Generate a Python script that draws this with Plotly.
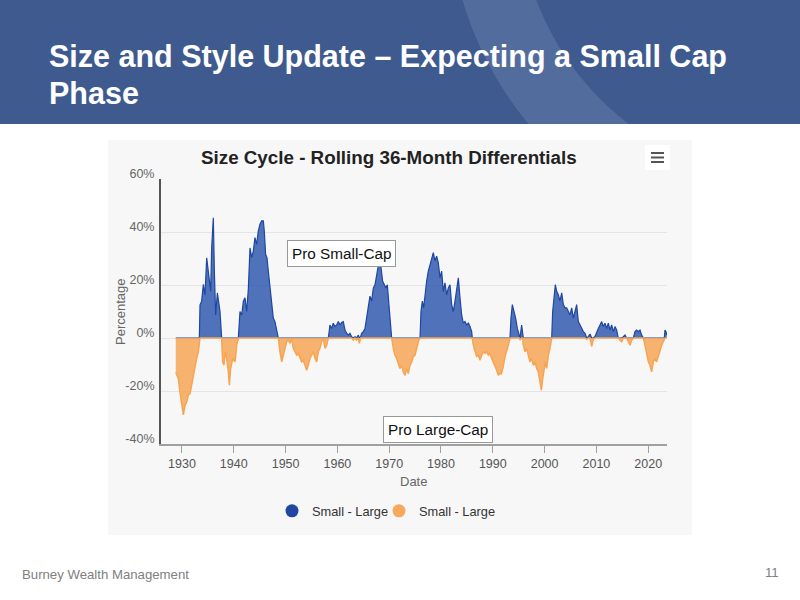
import math
import plotly.graph_objects as go

# ---------------- data ----------------
years = [
    1928.80, 1928.97, 1929.30, 1929.62, 1929.94, 1930.26, 1930.58, 1930.90, 1931.22, 1931.54,
    1931.87, 1932.19, 1932.51, 1932.83, 1933.15, 1933.35, 1933.48, 1933.80, 1934.12, 1934.44,
    1934.77, 1934.96, 1935.28, 1935.54, 1935.73, 1936.05, 1936.25, 1936.50, 1936.83, 1937.08,
    1937.34, 1937.66, 1937.85, 1938.11, 1938.37, 1938.63, 1938.95, 1939.14, 1939.40, 1939.79,
    1940.24, 1940.56, 1940.88, 1941.20, 1941.53, 1941.85, 1942.17, 1942.48, 1942.81, 1943.13,
    1943.45, 1943.77, 1944.09, 1944.41, 1944.74, 1945.06, 1945.38, 1945.70, 1945.89, 1946.15,
    1946.41, 1946.67, 1946.99, 1947.31, 1947.63, 1947.95, 1948.28, 1948.60, 1948.92, 1949.24,
    1949.56, 1949.88, 1950.21, 1950.53, 1950.85, 1951.17, 1951.49, 1951.81, 1952.14, 1952.46,
    1952.78, 1953.10, 1953.42, 1953.75, 1954.07, 1954.39, 1954.71, 1955.03, 1955.35, 1955.68,
    1956.00, 1956.32, 1956.64, 1956.96, 1957.28, 1957.61, 1957.93, 1958.25, 1958.57, 1958.89,
    1959.21, 1959.54, 1959.86, 1960.18, 1960.50, 1960.82, 1961.14, 1961.47, 1961.79, 1962.11,
    1962.43, 1962.75, 1963.08, 1963.40, 1963.72, 1964.04, 1964.23, 1964.49, 1964.68, 1965.01,
    1965.33, 1965.65, 1965.97, 1966.29, 1966.61, 1966.94, 1967.26, 1967.58, 1967.90, 1968.22,
    1968.42, 1968.74, 1969.06, 1969.38, 1969.64, 1969.90, 1970.16, 1970.48, 1970.80, 1971.12,
    1971.44, 1971.76, 1972.08, 1972.41, 1972.73, 1973.05, 1973.37, 1973.69, 1974.01, 1974.34,
    1974.66, 1974.98, 1975.30, 1975.62, 1975.95, 1976.14, 1976.40, 1976.65, 1976.91, 1977.23,
    1977.55, 1977.88, 1978.20, 1978.52, 1978.84, 1979.16, 1979.48, 1979.81, 1980.13, 1980.45,
    1980.77, 1981.09, 1981.42, 1981.74, 1982.06, 1982.38, 1982.70, 1983.03, 1983.35, 1983.67,
    1983.99, 1984.31, 1984.63, 1984.96, 1985.28, 1985.60, 1985.92, 1986.05, 1986.24, 1986.56,
    1986.88, 1987.21, 1987.53, 1987.85, 1988.17, 1988.49, 1988.82, 1989.14, 1989.46, 1989.78,
    1990.10, 1990.42, 1990.75, 1991.07, 1991.39, 1991.65, 1992.00, 1992.36, 1992.68, 1993.00,
    1993.32, 1993.51, 1993.77, 1994.09, 1994.41, 1994.74, 1994.93, 1995.12, 1995.25, 1995.57,
    1995.77, 1995.89, 1996.22, 1996.54, 1996.86, 1997.18, 1997.50, 1997.83, 1998.15, 1998.47,
    1998.79, 1999.11, 1999.37, 1999.63, 1999.88, 2000.14, 2000.40, 2000.72, 2001.04, 2001.37,
    2001.56, 2001.82, 2002.07, 2002.33, 2002.65, 2002.97, 2003.30, 2003.62, 2003.94, 2004.26,
    2004.58, 2004.90, 2005.23, 2005.55, 2005.87, 2006.19, 2006.51, 2006.83, 2007.16, 2007.48,
    2007.80, 2008.12, 2008.44, 2008.77, 2009.09, 2009.41, 2009.73, 2010.05, 2010.37, 2010.70,
    2011.02, 2011.34, 2011.66, 2011.98, 2012.30, 2012.63, 2012.95, 2013.27, 2013.59, 2013.91,
    2014.23, 2014.56, 2014.88, 2015.20, 2015.52, 2015.84, 2016.16, 2016.49, 2016.81, 2017.13,
    2017.45, 2017.77, 2018.09, 2018.42, 2018.74, 2019.06, 2019.38, 2019.70, 2020.03, 2020.35,
    2020.67, 2020.99, 2021.31, 2021.63, 2021.96, 2022.28, 2022.60, 2022.92, 2023.11, 2023.24,
    2023.44, 2023.57,
]
diff = [
    -13.0, -14.1, -15.3, -20.4, -25.4, -29.0, -25.4, -24.2, -21.6, -21.0,
    -17.8, -14.1, -10.3, -7.7, -5.2, 0.0, 12.5, 13.9, 20.2, 16.3,
    30.3, 26.5, 22.7, 17.6, 34.0, 45.4, 25.2, 8.7, 17.0, 13.9,
    10.0, 0.0, -9.0, -10.3, -5.2, -7.7, -12.8, -17.8, -11.5, -7.7,
    -9.0, -2.7, 0.0, 10.0, 8.7, 13.9, 15.2, 10.0, 18.5, 34.0,
    30.3, 32.8, 37.9, 35.3, 40.4, 42.9, 44.2, 44.2, 40.4, 31.5,
    30.3, 25.2, 18.9, 13.9, 7.5, 6.2, 3.6, 0.0, -5.2, -9.0,
    -6.5, -3.9, -1.4, -0.8, -2.0, -0.2, -3.9, -5.2, -6.5, -5.8,
    -7.7, -9.0, -8.4, -10.3, -12.2, -10.3, -7.7, -6.5, -5.2, -7.7,
    -9.0, -5.2, -3.9, -1.4, -0.1, -3.9, -2.7, 0.0, 4.9, 3.6,
    5.6, 4.3, 4.9, 6.2, 4.9, 5.9, 6.2, 3.0, 1.8, 1.1,
    1.8, 0.5, -0.8, 0.5, -0.8, 1.1, -2.0, 0.5, 1.8, 2.4,
    3.6, 7.5, 12.6, 15.8, 13.9, 18.9, 20.1, 24.1, 27.3, 27.8,
    26.6, 21.4, 20.1, 18.9, 20.1, 12.6, 7.5, 0.0, -3.9, -6.5,
    -7.7, -9.6, -11.5, -10.3, -12.8, -14.1, -11.5, -13.4, -10.3, -9.0,
    -7.0, -6.5, -3.9, -1.4, 0.0, 10.0, 13.9, 11.4, 16.5, 21.5,
    25.2, 27.8, 30.3, 32.2, 29.1, 30.9, 28.4, 22.7, 25.2, 17.6,
    20.8, 16.3, 18.9, 20.1, 12.6, 10.0, 13.9, 17.6, 22.7, 15.1,
    8.7, 5.6, 6.2, 4.9, 5.6, 4.3, 2.4, 0.0, -2.7, -5.2,
    -7.0, -6.5, -8.4, -6.5, -5.2, -5.8, -5.2, -6.5, -5.8, -7.7,
    -9.0, -10.3, -12.2, -14.1, -13.4, -13.5, -11.0, -7.0, -5.2, -2.7,
    0.0, 7.5, 12.6, 10.0, 7.5, 3.6, 1.8, 0.0, -0.8, 4.9,
    0.0, -2.7, -5.2, -3.9, -6.5, -9.0, -7.7, -10.3, -9.0, -11.5,
    -12.8, -16.6, -19.7, -15.3, -12.8, -9.0, -11.5, -6.5, -3.9, 0.0,
    10.0, 15.1, 20.1, 17.6, 16.3, 13.9, 17.0, 12.6, 11.4, 11.4,
    10.0, 8.7, 11.4, 7.5, 10.0, 12.6, 6.2, 4.9, 3.6, 2.4,
    1.8, -0.5, 0.5, 1.5, -3.2, -0.5, 0.6, 2.4, 3.6, 4.9,
    6.2, 4.3, 5.6, 3.6, 5.6, 3.0, 4.9, 2.4, 4.3, 3.0,
    0.0, -0.8, -1.4, 0.5, 1.1, 0.0, -1.4, -2.7, -0.8, 0.0,
    2.4, 3.0, 2.4, 3.0, 1.1, 0.0, -2.7, -6.5, -9.0, -10.3,
    -12.8, -9.0, -7.7, -9.0, -6.5, -5.2, -2.7, -1.4, 0.0, 3.0,
    2.4, 1.1,
]
series_names = ["Small - Large", "Small - Large"]
x_ticks = [1930, 1940, 1950, 1960, 1970, 1980, 1990, 2000, 2010, 2020]
y_ticks = [-40, -20, 0, 20, 40, 60]

small_cap = [max(v, 0.0) for v in diff]
large_cap = [min(v, 0.0) for v in diff]

# ---------------- helpers (pixel -> paper) ----------------
W, H = 800, 600
def px(x):
    return x / W
def py(y):
    return 1 - y / H

FONT = "Liberation Sans, Arial"
BLUE_LINE = "#1f47a2"
BLUE_FILL = "rgba(36,80,170,0.80)"
ORANGE_LINE = "#f6a552"
ORANGE_FILL = "rgba(248,166,88,0.85)"

fig = go.Figure()
fig.add_trace(go.Scatter(x=years, y=small_cap, mode="lines", fill="tozeroy",
                         line=dict(color=BLUE_LINE, width=1.2), fillcolor=BLUE_FILL,
                         showlegend=False, hoverinfo="skip"))
fig.add_trace(go.Scatter(x=years, y=large_cap, mode="lines", fill="tozeroy",
                         line=dict(color=ORANGE_LINE, width=1.5), fillcolor=ORANGE_FILL,
                         showlegend=False, hoverinfo="skip"))
# legend entries (circle symbols), one legend each so they can be placed exactly
fig.add_trace(go.Scatter(x=[None], y=[None], mode="markers", name=series_names[0],
                         marker=dict(color="#1f47a2", size=13), legend="legend"))
fig.add_trace(go.Scatter(x=[None], y=[None], mode="markers", name=series_names[1],
                         marker=dict(color="#f7a85a", size=13), legend="legend2"))

# ---------------- decorative slide elements ----------------
shapes = []
shapes.append(dict(type="rect", xref="paper", yref="paper", x0=px(108), x1=px(692),
                   y0=py(535), y1=py(140), fillcolor="#f7f7f7", line=dict(width=0), layer="below"))
shapes.append(dict(type="rect", xref="paper", yref="paper", x0=0, x1=1, y0=py(124), y1=1,
                   fillcolor="#3e5a8e", line=dict(width=0), layer="below"))
cx, cy, R1, R2 = 800, -100, 352, 282
pts = []
n = 40
for i in range(n + 1):
    yy = 124 * i / n
    pts.append((cx - math.sqrt(R1 ** 2 - (yy - cy) ** 2), yy))
for i in range(n, -1, -1):
    yy = 124 * i / n
    pts.append((cx - math.sqrt(R2 ** 2 - (yy - cy) ** 2), yy))
path = "M " + " L ".join(f"{px(a):.5f},{py(b):.5f}" for a, b in pts) + " Z"
shapes.append(dict(type="path", xref="paper", yref="paper", path=path,
                   fillcolor="#526c9e", line=dict(width=0), layer="below"))
shapes.append(dict(type="rect", xref="paper", yref="paper", x0=px(645), x1=px(670),
                   y0=py(170), y1=py(145), fillcolor="#ffffff", line=dict(width=0), layer="above"))
for yy in (153, 157.5, 162):
    shapes.append(dict(type="line", xref="paper", yref="paper", x0=px(651), x1=px(664),
                       y0=py(yy), y1=py(yy), line=dict(color="#555555", width=2), layer="above"))

annotations = [
    dict(text="Size and Style Update – Expecting a Small Cap", x=px(47), y=py(57),
         xanchor="left", yanchor="middle", showarrow=False, xref="paper", yref="paper",
         font=dict(family=FONT, size=30.5, color="white", weight="bold")),
    dict(text="Phase", x=px(47), y=py(93),
         xanchor="left", yanchor="middle", showarrow=False, xref="paper", yref="paper",
         font=dict(family=FONT, size=30.5, color="white", weight="bold")),
    dict(text="Burney Wealth Management", x=px(20), y=py(574), xanchor="left", yanchor="middle",
         showarrow=False, xref="paper", yref="paper",
         font=dict(family=FONT, size=13.2, color="#808080")),
    dict(text="11", x=px(781), y=py(572), xanchor="right", yanchor="middle",
         showarrow=False, xref="paper", yref="paper",
         font=dict(family=FONT, size=13.2, color="#808080")),
    dict(text="Size Cycle - Rolling 36-Month Differentials", x=px(389), y=py(157),
         xanchor="center", yanchor="middle", showarrow=False, xref="paper", yref="paper",
         font=dict(family=FONT, size=18.8, color="#222222", weight="bold")),
    dict(text="Date", x=px(414), y=py(481), xanchor="center", yanchor="middle",
         showarrow=False, xref="paper", yref="paper",
         font=dict(family=FONT, size=13, color="#666666")),
    dict(text="Percentage", x=px(120), y=py(312), xanchor="center", yanchor="middle", textangle=-90,
         showarrow=False, xref="paper", yref="paper",
         font=dict(family=FONT, size=13, color="#666666")),
    dict(text="Pro Small-Cap", x=1960.7, y=31.9, xref="x", yref="y", showarrow=False,
         bgcolor="white", bordercolor="#999999", borderwidth=1, borderpad=4,
         font=dict(family=FONT, size=15.3, color="#111111")),
    dict(text="Pro Large-Cap", x=1979.4, y=-34.7, xref="x", yref="y", showarrow=False,
         bgcolor="white", bordercolor="#999999", borderwidth=1, borderpad=4,
         font=dict(family=FONT, size=15.3, color="#111111")),
]

legend_common = dict(orientation="h", xanchor="left", yanchor="middle",
                     bgcolor="rgba(0,0,0,0)", font=dict(family=FONT, size=12.8, color="#333333"),
                     itemclick=False, itemdoubleclick=False)

fig.update_layout(
    width=W, height=H, margin=dict(l=0, r=0, t=0, b=0, autoexpand=False),
    paper_bgcolor="white", plot_bgcolor="rgba(0,0,0,0)",
    font=dict(family=FONT, color="#666666"),
    shapes=shapes, annotations=annotations,
    xaxis=dict(domain=[px(161), px(667)], range=[1925.95, 2023.63],
               tickvals=x_ticks, ticktext=[str(t) for t in x_ticks],
               showgrid=False, zeroline=False, showline=True, linecolor="#a0a0a0", linewidth=1.5,
               ticks="outside", ticklen=7, tickcolor="#a0a0a0", tickwidth=1.2,
               tickfont=dict(size=12.5, color="#555555")),
    yaxis=dict(domain=[py(444), py(179)], range=[-40, 60],
               tickvals=y_ticks, ticktext=[f"{t}%" for t in y_ticks],
               showgrid=True, gridcolor="#e4e4e4", gridwidth=1, zeroline=False,
               showline=True, linecolor="#555555", linewidth=2, ticks="",
               ticklabelshift=-5, ticklabelstandoff=2,
               tickfont=dict(size=12.5, color="#666666")),
    legend=dict(x=px(272), y=py(511), **legend_common),
    legend2=dict(x=px(379), y=py(511), **legend_common),
    hovermode=False,
)

fig.write_html("out.html")
